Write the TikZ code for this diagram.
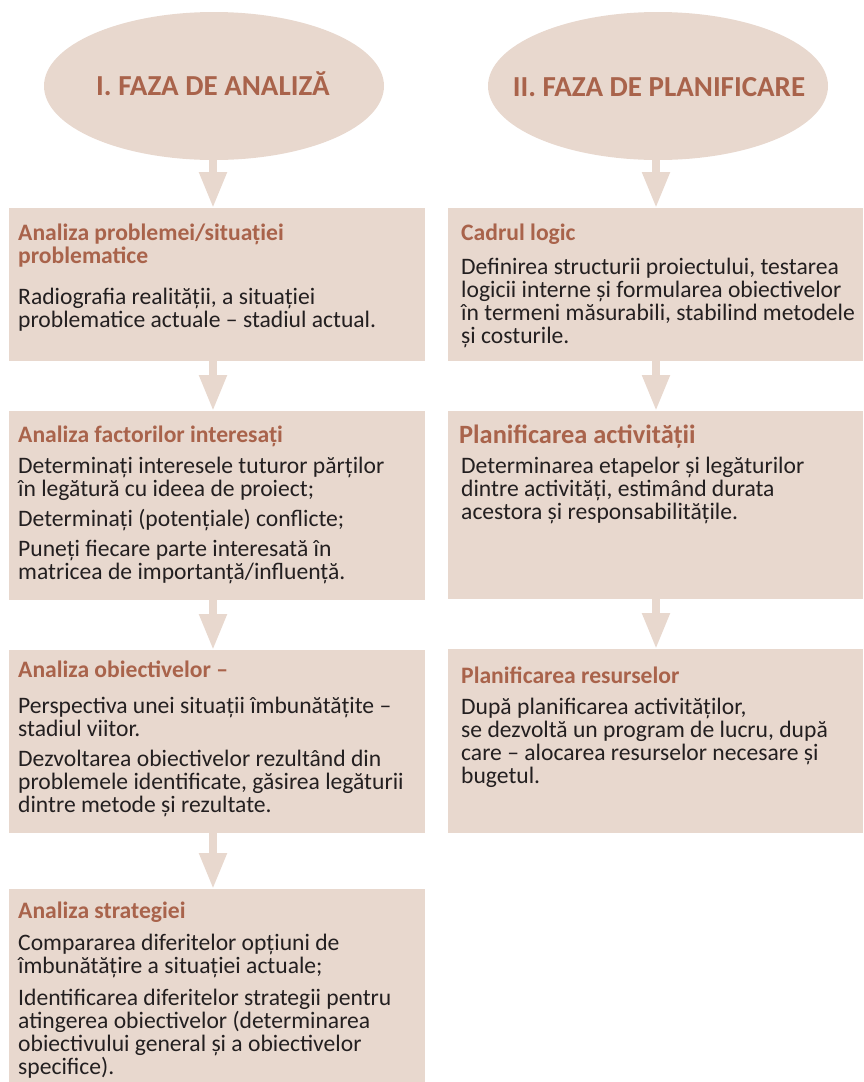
\documentclass[tikz,border=0pt]{standalone}
\usepackage{fontspec}
\setmainfont{Carlito}
\usetikzlibrary{arrows.meta}
\usetikzlibrary{shapes.geometric}
\definecolor{boxfill}{HTML}{E8D8CE}
\definecolor{titcol}{HTML}{A9634B}
\definecolor{bodycol}{HTML}{231F20}
\tikzset{
  panel/.style={fill=boxfill, draw=none, anchor=north west, inner sep=0pt},
  phase/.style={ellipse, fill=boxfill, draw=none, inner sep=0pt, minimum width=340pt, minimum height=148pt},
  phasetxt/.style={anchor=base, inner sep=0pt, text=titcol, font=\bfseries\fontsize{29}{30}\selectfont},
  tl/.style={anchor=base west, inner sep=0pt, text=titcol, font=\bfseries\fontsize{23.6}{24}\selectfont},
  tlbig/.style={anchor=base west, inner sep=0pt, text=titcol, font=\bfseries\fontsize{26.4}{27}\selectfont},
  bl/.style={anchor=base west, inner sep=0pt, text=bodycol, font=\fontsize{23.6}{24}\selectfont},
  flow/.style={draw=boxfill, line width=8pt, -{Triangle[width=26pt,length=36pt]}},
}
\begin{document}
\begin{tikzpicture}[x=1pt,y=-1pt]
\useasboundingbox (0,0) rectangle (863,1082);
\coordinate (axL) at (213,0);
\coordinate (axR) at (656,0);
% phases
\node[phase] (e1) at (214,86) {};
\node[phase] (e2) at (658,86) {};
\node[phasetxt] (e1t) at (213,95) {I. FAZA DE ANALIZĂ};
\node[phasetxt] (e2t) at (659,96) {II. FAZA DE PLANIFICARE};
% panels left
\node[panel, minimum width=416pt, minimum height=153pt] (p1) at (9,208) {};
\node[panel, minimum width=416pt, minimum height=189pt] (p2) at (9,411) {};
\node[panel, minimum width=416pt, minimum height=183pt] (p3) at (9,650) {};
\node[panel, minimum width=416pt, minimum height=193pt] (p4) at (9,889) {};
% panels right
\node[panel, minimum width=415pt, minimum height=153pt] (q1) at (448,208) {};
\node[panel, minimum width=415pt, minimum height=188pt] (q2) at (448,411) {};
\node[panel, minimum width=415pt, minimum height=184pt] (q3) at (448,649) {};
% arrows
\draw[flow] (e1.south -| axL) -- (p1.north -| axL);
\draw[flow] (p1.south -| axL) -- (p2.north -| axL);
\draw[flow] (p2.south -| axL) -- (p3.north -| axL);
\draw[flow] (p3.south -| axL) -- (p4.north -| axL);
\draw[flow] (e2.south -| axR) -- (q1.north -| axR);
\draw[flow] (q1.south -| axR) -- (q2.north -| axR);
\draw[flow] (q2.south -| axR) -- (q3.north -| axR);
% texts panel 1
\node[tl] (p1t1) at (18,240) {Analiza problemei/situației};
\node[tl] (p1t2) at (18,263) {problematice};
\node[bl] (p1b1) at (18,304) {Radiografia realității, a situației};
\node[bl] (p1b2) at (18,327) {problematice actuale – stadiul actual.};
% panel 2
\node[tl] (p2t1) at (18,442) {Analiza factorilor interesați};
\node[bl] (p2b1) at (18,473) {Determinați interesele tuturor părților};
\node[bl] (p2b2) at (18,496) {în legătură cu ideea de proiect;};
\node[bl] (p2b3) at (18,526) {Determinați (potențiale) conflicte;};
\node[bl] (p2b4) at (18,556) {Puneți fiecare parte interesată în};
\node[bl] (p2b5) at (18,579) {matricea de importanță/influență.};
% panel 3
\node[tl] (p3t1) at (18,677) {Analiza obiectivelor –};
\node[bl] (p3b1) at (18,713) {Perspectiva unei situații îmbunătățite –};
\node[bl] (p3b2) at (18,736) {stadiul viitor.};
\node[bl] (p3b3) at (18,766) {Dezvoltarea obiectivelor rezultând din};
\node[bl] (p3b4) at (18,789) {problemele identificate, găsirea legăturii};
\node[bl] (p3b5) at (18,812) {dintre metode și rezultate.};
% panel 4
\node[tl] (p4t1) at (18,918) {Analiza strategiei};
\node[bl] (p4b1) at (18,950) {Compararea diferitelor opțiuni de};
\node[bl] (p4b2) at (18,973) {îmbunătățire a situației actuale;};
\node[bl] (p4b3) at (18,1005) {Identificarea diferitelor strategii pentru};
\node[bl] (p4b4) at (18,1028) {atingerea obiectivelor (determinarea};
\node[bl] (p4b5) at (18,1051) {obiectivului general și a obiectivelor};
\node[bl] (p4b6) at (18,1074) {specifice).};
% right panel 1
\node[tl] (q1t1) at (461,240) {Cadrul logic};
\node[bl] (q1b1) at (461,274) {Definirea structurii proiectului, testarea};
\node[bl] (q1b2) at (461,297) {logicii interne și formularea obiectivelor};
\node[bl] (q1b3) at (461,320) {în termeni măsurabili, stabilind metodele};
\node[bl] (q1b4) at (461,343) {și costurile.};
% right panel 2
\node[tlbig] (q2t1) at (459,443) {Planificarea activității};
\node[bl] (q2b1) at (461,473) {Determinarea etapelor și legăturilor};
\node[bl] (q2b2) at (461,496) {dintre activități, estimând durata};
\node[bl] (q2b3) at (461,519) {acestora și responsabilitățile.};
% right panel 3
\node[tl] (q3t1) at (461,683) {Planificarea resurselor};
\node[bl] (q3b1) at (461,714) {După planificarea activităților,};
\node[bl] (q3b2) at (461,737) {se dezvoltă un program de lucru, după};
\node[bl] (q3b3) at (461,760) {care – alocarea resurselor necesare și};
\node[bl] (q3b4) at (461,783) {bugetul.};
\end{tikzpicture}
\end{document}
